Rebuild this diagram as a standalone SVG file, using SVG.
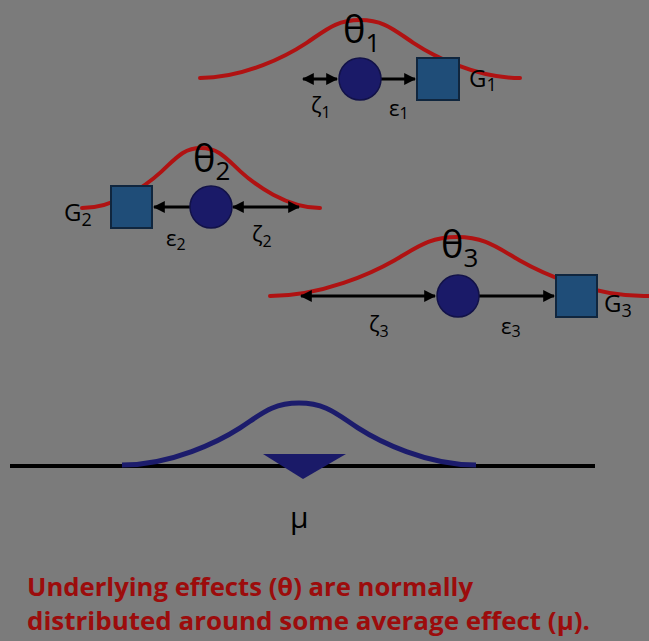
<svg xmlns="http://www.w3.org/2000/svg" width="649" height="641" viewBox="0 0 649 641">
<style>
.bg{fill:#7b7b7b}
.curve{fill:none;stroke:#b01212;stroke-width:4;stroke-linecap:round}
.blue{fill:none;stroke:#1c1c6c;stroke-width:5}
.circ{fill:#1a1a68;stroke:#121248;stroke-width:1.5}
.sq{fill:#1f4d78;stroke:#10263e;stroke-width:2}
.arr{fill:none;stroke:#000;stroke-width:3}
.lbl{font-family:"Open Sans","Liberation Sans",sans-serif;fill:#000}
.theta{font-size:38px}
.sub{font-size:26px}
.g{font-size:24px}
.gsub{font-size:18px}
.gr{font-size:22px}
.grsub{font-size:16px}
.cap{font-family:"Open Sans","Liberation Sans",sans-serif;font-weight:bold;font-size:25px;fill:#9c0c0c}
</style>
<defs>
<marker id="ah" viewBox="0 0 10 10" refX="9" refY="5" markerWidth="4" markerHeight="4" orient="auto-start-reverse" markerUnits="strokeWidth">
<path d="M0,0 L10,5 L0,10 Z" fill="#000"/>
</marker>
</defs>
<rect class="bg" x="0" y="0" width="649" height="641"/>

<g id="distributions">
<path class="curve" d="M200,78 C244.8,78 287.5,55.4 306.7,42.8 C325.9,30.1 336,20 360,20 C384,20 394.1,30.1 413.3,42.8 C432.5,55.4 475.2,78 520,78"/>
<path class="curve" d="M82,208 C115.3,208 147.1,184.7 161.4,171.6 C175.7,158.5 183.1,148 201,148 C218.9,148 226.3,158.5 240.6,171.6 C254.9,184.7 286.7,208 320,208"/>
<path class="curve" d="M270,296 C322.4,296 372.3,273 394.7,260.2 C417.2,247.3 429,237 457,237 C485,237 496.8,247.3 519.3,260.2 C541.7,273 591.6,296 644,296 L660,296"/>
</g>

<g id="connectors">
<line class="arr" x1="303" y1="79" x2="337" y2="79" marker-start="url(#ah)" marker-end="url(#ah)"/>
<line class="arr" x1="381" y1="79" x2="415" y2="79" marker-end="url(#ah)"/>
<line class="arr" x1="190" y1="207" x2="154" y2="207" marker-end="url(#ah)"/>
<line class="arr" x1="233" y1="207" x2="299" y2="207" marker-start="url(#ah)" marker-end="url(#ah)"/>
<line class="arr" x1="301" y1="296" x2="435" y2="296" marker-start="url(#ah)" marker-end="url(#ah)"/>
<line class="arr" x1="479" y1="296" x2="554" y2="296" marker-end="url(#ah)"/>
</g>

<g id="study1">
<circle class="circ" cx="360" cy="79" r="21"/>
<rect class="sq" x="417" y="58" width="42" height="42"/>
<text class="lbl theta" x="343" y="43">θ<tspan class="sub" dy="9">1</tspan></text>
<text class="lbl g" x="469" y="87">G<tspan class="gsub" dy="4">1</tspan></text>
<text class="lbl gr" x="311" y="113">ζ<tspan class="grsub" dy="5">1</tspan></text>
<text class="lbl gr" x="389" y="116">ε<tspan class="grsub" dy="3">1</tspan></text>
</g>

<g id="study2">
<circle class="circ" cx="211" cy="207" r="21"/>
<rect class="sq" x="111" y="186" width="41" height="42"/>
<text class="lbl theta" x="193" y="172">θ<tspan class="sub" dy="8">2</tspan></text>
<text class="lbl g" x="64" y="221">G<tspan class="gsub" dy="5">2</tspan></text>
<text class="lbl gr" x="166" y="246">ε<tspan class="grsub" dy="4">2</tspan></text>
<text class="lbl gr" x="252" y="242">ζ<tspan class="grsub" dy="5">2</tspan></text>
</g>

<g id="study3">
<circle class="circ" cx="458" cy="296" r="21"/>
<rect class="sq" x="556" y="275" width="41" height="42"/>
<text class="lbl theta" x="441" y="258">θ<tspan class="sub" dy="9">3</tspan></text>
<text class="lbl g" x="604" y="312">G<tspan class="gsub" dy="5">3</tspan></text>
<text class="lbl gr" x="369" y="332">ζ<tspan class="grsub" dy="5">3</tspan></text>
<text class="lbl gr" x="501" y="334">ε<tspan class="grsub" dy="3">3</tspan></text>
</g>

<g id="average">
<line x1="10" y1="466" x2="595" y2="466" stroke="#000" stroke-width="4"/>
<path class="blue" d="M122,465 C171.6,465 218.8,441.5 240.1,427.8 C261.3,414 272.4,403 299,403 C325.6,403 336.7,414 357.9,427.8 C379.2,441.5 426.4,465 476,465"/>
<path d="M263,454 L346,454 L303,479 Z" fill="#1a1a68"/>
<text class="lbl" x="290" y="528" font-size="30">μ</text>
</g>

<g id="caption">
<text class="cap" x="27" y="596" textLength="446" lengthAdjust="spacingAndGlyphs">Underlying effects (θ) are normally</text>
<text class="cap" x="27" y="630" textLength="563" lengthAdjust="spacingAndGlyphs">distributed around some average effect (μ).</text>
</g>
</svg>
